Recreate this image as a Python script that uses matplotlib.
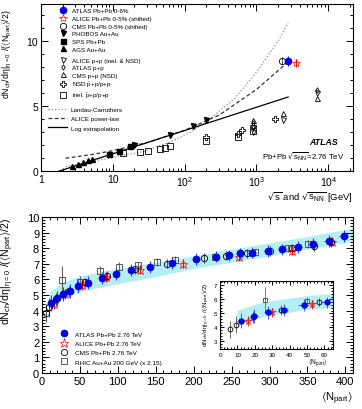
import numpy as np
import matplotlib.pyplot as plt
from matplotlib.ticker import MultipleLocator, LogLocator, NullFormatter

plt.rcParams['font.family'] = ['Liberation Sans', 'DejaVu Sans']
plt.rcParams['mathtext.default'] = 'regular'

# ---- top panel: energy dependence ----
atlas_aa_x = [2760]
atlas_aa_y = [8.45]
alice_aa_x = [3500]
alice_aa_y = [8.3]
cms_aa_x = [2300]
cms_aa_y = [8.45]
phobos_x = [19.6, 62.4, 130, 200]
phobos_y = [2.0, 2.8, 3.5, 3.9]
sps_x = [8.8, 12.3, 17.3]
sps_y = [1.3, 1.55, 1.9]
ags_x = [2.7, 3.3, 3.8, 4.5, 5.1]
ags_y = [0.38, 0.54, 0.69, 0.85, 0.92]
alice_pp_x = [900, 900, 2360, 7000]
alice_pp_y = [3.02, 3.3, 3.9, 6.0]
atlas_pp_x = [900, 7000]
atlas_pp_y = [3.7, 6.25]
cms_pp_x = [900, 2360, 7000]
cms_pp_y = [3.95, 4.45, 5.65]
nsd_x = [200, 546, 630, 900, 1800]
nsd_y = [2.65, 2.85, 3.15, 3.5, 4.0]
inel_x = [14, 24, 31, 45, 53, 63, 200, 546, 900]
inel_y = [1.4, 1.47, 1.55, 1.7, 1.78, 1.92, 2.35, 2.6, 3.1]

landau_x = [2.2, 5, 10, 26, 67, 130, 200, 500, 1000, 2000, 2760]
landau_y = [0.35, 0.75, 1.05, 1.5, 2.3, 3.1, 3.8, 5.6, 7.6, 10.0, 11.4]
power_x = [2.2, 5, 10, 30, 100, 300, 1000, 2760]
power_y = [1.0, 1.27, 1.58, 2.2, 3.14, 4.3, 6.28, 8.4]
logext_x = [1.78, 2760]
logext_y = [0.0, 5.7]

# ---- bottom panel: centrality dependence ----
atlas_np = [12.2, 19.5, 27.6, 36.5, 48, 61.3, 78.6, 97.5, 118, 142, 172,
            203, 229, 246, 261, 277, 298, 317, 337, 357, 378, 398]
atlas_v = [4.49, 4.79, 5.07, 5.23, 5.57, 5.79, 6.09, 6.35, 6.59, 6.81, 7.07,
           7.31, 7.45, 7.56, 7.68, 7.71, 7.83, 7.94, 8.06, 8.25, 8.48, 8.8]
atlas_verr = [0.5, 0.5, 0.45, 0.45, 0.42, 0.4, 0.4, 0.4, 0.38, 0.38, 0.38,
              0.38, 0.36, 0.36, 0.36, 0.36, 0.36, 0.36, 0.38, 0.38, 0.4, 0.4]
atlas_nerr = [2.4, 2.5, 2.6, 2.8, 3, 3.2, 3.5, 3.8, 4, 4.3, 4.6,
              5, 5, 5, 5, 5.5, 5.5, 5.5, 6, 6, 6, 6]
alice_np = [15.8, 30, 53, 85, 129, 186, 260, 330, 383]
alice_v = [4.43, 5.07, 5.64, 6.14, 6.61, 6.96, 7.42, 7.85, 8.4]
alice_verr = [0.35, 0.3, 0.3, 0.28, 0.26, 0.25, 0.25, 0.25, 0.25]
cms_np = [5.5, 9, 19, 35, 57, 86, 122, 165, 214, 243, 270, 300, 330, 358, 381]
cms_v = [3.85, 4.2, 4.74, 5.25, 5.82, 6.23, 6.65, 7.01, 7.37, 7.52, 7.68,
         7.83, 7.99, 8.14, 8.4]
cms_verr = [0.6, 0.6, 0.4, 0.35, 0.3, 0.3, 0.3, 0.3, 0.3, 0.3, 0.3, 0.3,
            0.3, 0.3, 0.3]
rhic_np = [26, 50, 76, 102, 126, 152, 176, 228, 281, 325, 351]
rhic_v = [5.95, 5.85, 6.55, 6.8, 6.9, 7.11, 7.27, 7.47, 7.73, 7.99, 8.25]
rhic_verr = [0.9, 0.35, 0.3, 0.3, 0.25, 0.25, 0.25, 0.25, 0.25, 0.25, 0.25]

band_np = [10, 25, 50, 100, 150, 200, 250, 300, 350, 410]
band_lo = [4.12, 4.74, 5.25, 5.72, 6.18, 6.7, 7.11, 7.52, 7.94, 8.45]
band_hi = [5.2, 5.77, 6.23, 6.7, 7.11, 7.52, 7.94, 8.35, 8.76, 9.28]

ylab = r'$dN_{ch}/d\eta|_{\eta=0}\ /(\langle N_{part}\rangle/2)$'
BAND = '#b3eff7'


def root_ticks(ax, size):
    """ROOT-like inward ticks on all four sides"""
    ax.tick_params(which='both', direction='in', top=True, right=True,
                   labelsize=size, pad=2, width=0.7)
    ax.tick_params(which='major', length=5)
    ax.tick_params(which='minor', length=2.5)
    for s in ax.spines.values():
        s.set_linewidth(0.8)


def draw_centrality(ax, ms, lw):
    ax.fill_between(band_np, band_lo, band_hi, color=BAND, lw=0, zorder=1)
    ax.errorbar(rhic_np, rhic_v, yerr=rhic_verr, fmt='none', ecolor='0.4',
                elinewidth=lw, zorder=2)
    ax.errorbar(cms_np, cms_v, yerr=cms_verr, fmt='none', ecolor='0.3',
                elinewidth=lw, zorder=2)
    ax.errorbar(alice_np, alice_v, yerr=alice_verr, fmt='none', ecolor='red',
                elinewidth=lw, zorder=3)
    ax.errorbar(atlas_np, atlas_v, yerr=atlas_verr, xerr=atlas_nerr, fmt='none',
                ecolor='#3344ff', elinewidth=lw, zorder=4)
    h1, = ax.plot(atlas_np, atlas_v, 'o', color='blue', ms=ms, mec='#0000aa',
                  mew=0.5, zorder=6, label='ATLAS Pb+Pb 2.76 TeV')
    h2, = ax.plot(alice_np, alice_v, '*', mfc='none', mec='red', ms=ms + 1.5,
                  mew=0.5, zorder=5, label='ALICE Pb+Pb 2.76 TeV')
    h3, = ax.plot(cms_np, cms_v, 'o', mfc='none', mec='black', ms=ms - 0.5,
                  mew=0.6, zorder=5, label='CMS Pb+Pb 2.76 TeV')
    h4, = ax.plot(rhic_np, rhic_v, 's', mfc='none', mec='0.25', ms=ms - 1,
                  mew=0.6, zorder=5, label='RHIC Au+Au 200 GeV (x 2.15)')
    return [h1, h2, h3, h4]


fig = plt.figure(figsize=(3.62, 4.10), dpi=100)
ax1 = fig.add_axes([0.113, 0.580, 0.862, 0.408])
ax2 = fig.add_axes([0.116, 0.088, 0.859, 0.380])
ax3 = fig.add_axes([0.608, 0.146, 0.312, 0.166])

# ---- top panel ----
ax1.set_xscale('log')
l1, = ax1.plot(landau_x, landau_y, ':', color='0.55', lw=0.9,
               label='Landau-Carruthers')
l2, = ax1.plot(power_x, power_y, '--', color='0.2', lw=0.9, dashes=(3, 2),
               label='ALICE power-law')
l3, = ax1.plot(logext_x, logext_y, '-', color='black', lw=0.9,
               label='Log extrapolation')

ax1.errorbar(atlas_aa_x, atlas_aa_y, yerr=0.4, fmt='none', ecolor='blue', elinewidth=0.7)
ax1.errorbar(alice_aa_x, alice_aa_y, yerr=0.3, fmt='none', ecolor='red', elinewidth=0.7)
ax1.errorbar(cms_aa_x, cms_aa_y, yerr=0.3, fmt='none', ecolor='0.3', elinewidth=0.7)
ms = 3.6
ha = [ax1.plot(atlas_aa_x, atlas_aa_y, 'o', color='blue', ms=4.5,
               label='ATLAS Pb+Pb 0-6%')[0],
      ax1.plot(alice_aa_x, alice_aa_y, '*', mfc='none', mec='red', ms=6, mew=0.5,
               label='ALICE Pb+Pb 0-5% (shifted)')[0],
      ax1.plot(cms_aa_x, cms_aa_y, 'o', mfc='none', mec='black', ms=4.5, mew=0.6,
               label='CMS Pb+Pb 0-5% (shifted)')[0],
      ax1.plot(phobos_x, phobos_y, 'v', color='black', ms=ms,
               label='PHOBOS Au+Au')[0],
      ax1.plot(sps_x, sps_y, 's', color='black', ms=ms, label='SPS Pb+Pb')[0],
      ax1.plot(ags_x, ags_y, '^', color='black', ms=ms, label='AGS Au+Au')[0]]
hb = [ax1.plot(alice_pp_x, alice_pp_y, 'v', mfc='none', mec='black', ms=ms, mew=0.6,
               label='ALICE p+p (inel. & NSD)')[0],
      ax1.plot(atlas_pp_x, atlas_pp_y, 'd', mfc='none', mec='black', ms=ms - 0.8,
               mew=0.6, label='ATLAS p+p')[0],
      ax1.plot(cms_pp_x, cms_pp_y, '^', mfc='none', mec='black', ms=ms, mew=0.6,
               label='CMS p+p (NSD)')[0],
      ax1.plot(nsd_x, nsd_y, 'P', mfc='none', mec='black', ms=ms + 0.4, mew=0.6,
               label=r'NSD $\bar{p}$+p/p+p')[0],
      ax1.plot(inel_x, inel_y, 's', mfc='none', mec='black', ms=ms + 0.4, mew=0.6,
               label=r'inel. $\bar{p}$+p/p+p')[0]]

ax1.set_xlim(1, 2.2e4)
ax1.set_ylim(0, 12.85)
ax1.set_xticks([1, 10, 100, 1000, 10000])
ax1.set_xticklabels(['1', '10', '$10^{2}$', '$10^{3}$', '$10^{4}$'])
ax1.xaxis.set_minor_locator(LogLocator(base=10, subs=np.arange(2, 10)))
ax1.xaxis.set_minor_formatter(NullFormatter())
ax1.yaxis.set_major_locator(MultipleLocator(5))
ax1.yaxis.set_minor_locator(MultipleLocator(1))
root_ticks(ax1, 7.5)

ax1.set_ylabel(ylab, fontsize=6.3, loc='top')
ax1.yaxis.set_label_coords(-0.085, 0.975)
ax1.set_xlabel(r'$\sqrt{s}$ and $\sqrt{s_{NN}}$ [GeV]', fontsize=6.8, loc='right')
ax1.xaxis.set_label_coords(1.0, -0.11)
ax1.text(0.952, 0.175, 'ATLAS', transform=ax1.transAxes, ha='right', va='center',
         fontsize=6.3, fontweight='bold', fontstyle='italic')
ax1.text(0.972, 0.096, r'Pb+Pb $\sqrt{s_{NN}}$=2.76 TeV', transform=ax1.transAxes,
         ha='right', va='center', fontsize=5.6)

lkw = dict(frameon=False, fontsize=4.5, borderpad=0, borderaxespad=0, loc='upper left')
leg_a = ax1.legend(handles=ha, bbox_to_anchor=(0.06, 0.975), handlelength=1.0,
                   handletextpad=0.9, labelspacing=0.36, **lkw)
ax1.add_artist(leg_a)
leg_b = ax1.legend(handles=hb, bbox_to_anchor=(0.06, 0.68), handlelength=1.0,
                   handletextpad=0.9, labelspacing=0.32, **lkw)
ax1.add_artist(leg_b)
ax1.legend(handles=[l1, l2, l3], bbox_to_anchor=(0.022, 0.385), handlelength=3.1,
           handletextpad=0.6, labelspacing=0.62, **lkw)

# ---- bottom panel ----
hc = draw_centrality(ax2, 5, 0.8)
ax2.set_xlim(0, 410)
ax2.set_ylim(0, 10)
ax2.xaxis.set_major_locator(MultipleLocator(50))
ax2.xaxis.set_minor_locator(MultipleLocator(10))
ax2.yaxis.set_major_locator(MultipleLocator(1))
ax2.yaxis.set_minor_locator(MultipleLocator(0.2))
root_ticks(ax2, 8)
ax2.set_ylabel(ylab, fontsize=7.6, loc='top')
ax2.yaxis.set_label_coords(-0.085, 1.0)
ax2.set_xlabel(r'$\langle N_{part}\rangle$', fontsize=8, loc='right')
ax2.xaxis.set_label_coords(1.0, -0.105)
ax2.legend(handles=hc, bbox_to_anchor=(0.062, 0.268), handlelength=1.0,
           handletextpad=1.1, labelspacing=0.6, frameon=False, fontsize=4.6,
           borderpad=0, borderaxespad=0, loc='upper left')

# ---- inset: peripheral collisions ----
draw_centrality(ax3, 4, 0.6)
ax3.set_xlim(0, 65)
ax3.set_ylim(2.45, 7.3)
ax3.xaxis.set_major_locator(MultipleLocator(10))
ax3.xaxis.set_minor_locator(MultipleLocator(2))
ax3.yaxis.set_major_locator(MultipleLocator(1))
ax3.yaxis.set_minor_locator(MultipleLocator(0.2))
root_ticks(ax3, 4.5)
ax3.tick_params(which='major', length=3)
ax3.tick_params(which='minor', length=1.5)
ax3.set_ylabel(ylab, fontsize=4.5, loc='top')
ax3.yaxis.set_label_coords(-0.075, 1.0)
ax3.set_xlabel(r'$\langle N_{part}\rangle$', fontsize=4.8)
ax3.xaxis.set_label_coords(0.87, -0.11)

fig.savefig('out.png', dpi=100)
